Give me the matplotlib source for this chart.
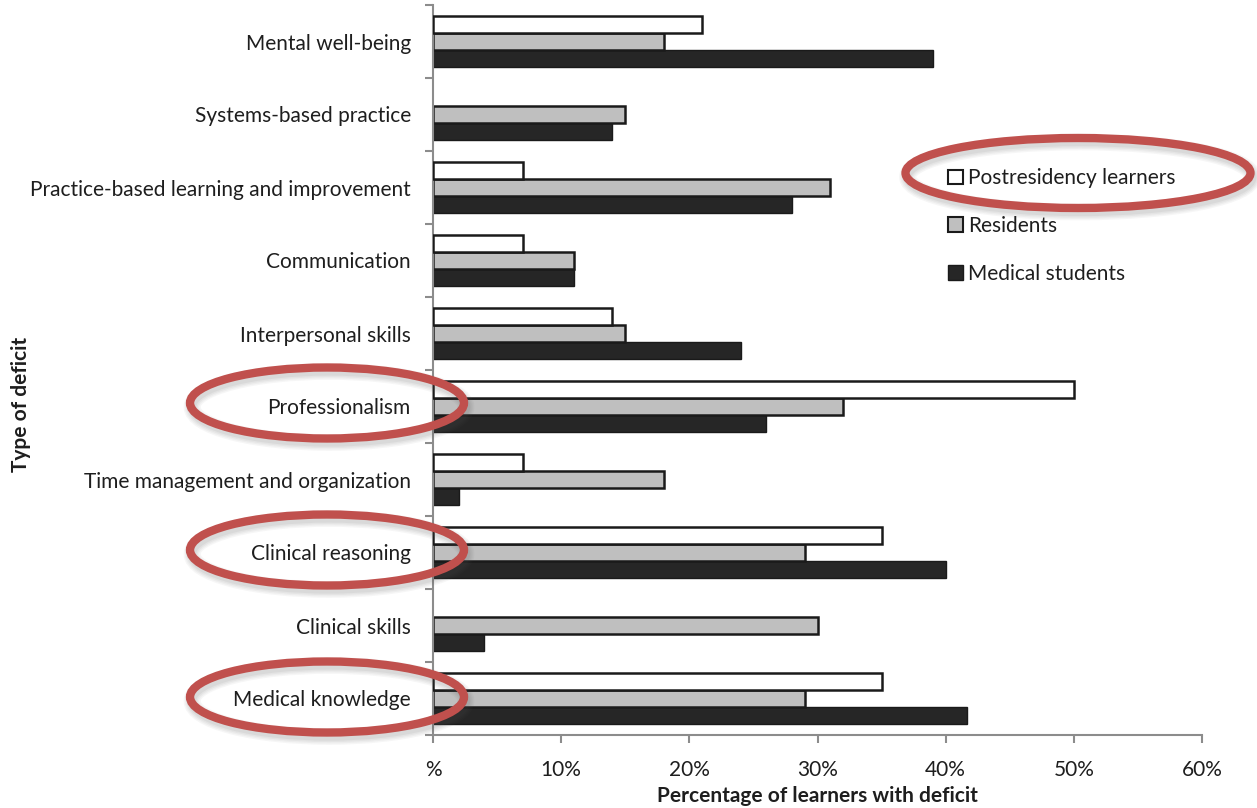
import matplotlib
matplotlib.use("Agg")
import matplotlib.pyplot as plt
from matplotlib.patches import Ellipse, Patch
import numpy as np

plt.rcParams['font.family'] = ['Lato', 'DejaVu Sans']

# Deficit categories, bottom to top
categories = [
    "Medical knowledge",
    "Clinical skills",
    "Clinical reasoning",
    "Time management and organization",
    "Professionalism",
    "Interpersonal skills",
    "Communication",
    "Practice-based learning and improvement",
    "Systems-based practice",
    "Mental well-being",
]
postresidency = [35, 0, 35, 7, 50, 14, 7, 7, 0, 21]
residents = [29, 30, 29, 18, 32, 15, 11, 31, 15, 18]
medical_students = [41.7, 4, 40, 2, 26, 24, 11, 28, 14, 39]

series_labels = ["Postresidency learners", "Residents", "Medical students"]
xticks = [0, 10, 20, 30, 40, 50, 60]
xtick_labels = ["%", "10%", "20%", "30%", "40%", "50%", "60%"]
highlighted = ["Professionalism", "Clinical reasoning", "Medical knowledge"]

W, H = 1257, 808
fig = plt.figure(figsize=(W / 100, H / 100), dpi=100)
ax = fig.add_axes([433 / W, 1 - 735 / H, (1202 - 433) / W, (735 - 5) / H])

text_col = "#1e1e1e"
axis_col = "#8c8c8c"
fs = 15
bh = 0.233
y = np.arange(len(categories))

groups = [
    ax.barh(y + bh, postresidency, height=bh, color="white", edgecolor="#1a1a1a", linewidth=1.8, zorder=3),
    ax.barh(y, residents, height=bh, color="#bfbfbf", edgecolor="#1a1a1a", linewidth=1.8, zorder=2),
    ax.barh(y - bh, medical_students, height=bh, color="#262626", edgecolor="#1a1a1a", linewidth=1.0, zorder=1),
]
# empty bars get no outline
for g in groups:
    for rect in g:
        if rect.get_width() == 0:
            rect.set_visible(False)

ax.set_xlim(0, 60)
ax.set_ylim(-0.5, len(categories) - 0.5)
ax.set_xticks(xticks)
ax.set_xticklabels(xtick_labels, fontsize=fs, color=text_col)
ax.set_yticks(y)
ax.set_yticklabels(categories, fontsize=fs, color=text_col)
ax.set_yticks(np.arange(-0.5, len(categories)), minor=True)
ax.tick_params(axis="y", which="major", length=0, pad=16)
ax.tick_params(axis="y", which="minor", length=6, width=1.5, color=axis_col)
ax.tick_params(axis="x", which="major", length=6, width=1.5, color=axis_col, pad=12)

for side in ("top", "right"):
    ax.spines[side].set_visible(False)
for side in ("left", "bottom"):
    ax.spines[side].set_color(axis_col)
    ax.spines[side].set_linewidth(1.5)

ax.set_xlabel("Percentage of learners with deficit", fontsize=fs, fontweight="bold",
              color=text_col, labelpad=4)
fig.text(21 / W, 1 - 404 / H, "Type of deficit", rotation=90, fontsize=fs,
         fontweight="bold", color=text_col, ha="center", va="center")

handles = [
    Patch(facecolor="white", edgecolor="#1a1a1a", linewidth=1.5),
    Patch(facecolor="#bfbfbf", edgecolor="#1a1a1a", linewidth=1.5),
    Patch(facecolor="#262626", edgecolor="#1a1a1a", linewidth=1.0),
]
fig.legend(handles, series_labels, loc="upper left",
           bbox_to_anchor=(940 / W, 1 - 160 / H), frameon=False, fontsize=fs,
           handlelength=0.7, handleheight=0.7, handletextpad=0.25,
           labelspacing=1.33, labelcolor=text_col, borderaxespad=0)

# Overlay in pixel coordinates for the highlight rings
ov = fig.add_axes([0, 0, 1, 1], zorder=10)
ov.set_xlim(0, W)
ov.set_ylim(H, 0)
ov.axis("off")
ov.patch.set_alpha(0)

rings = [(1078, 173, 345, 70)]
label_rows = {"Professionalism": 403, "Clinical reasoning": 550, "Medical knowledge": 697}
for name in highlighted:
    rings.append((327, label_rows[name], 274, 71))

for cx, cy, w, h in rings:
    for k, a in enumerate([0.05, 0.05, 0.06, 0.07]):
        ov.add_patch(Ellipse((cx + 2, cy + 4), w, h, fill=False,
                             edgecolor="#555555", alpha=a, linewidth=12 - 2 * k))
    ov.add_patch(Ellipse((cx, cy), w, h, fill=False, edgecolor="#c0504d", linewidth=6))

fig.savefig("out.png", dpi=100)
